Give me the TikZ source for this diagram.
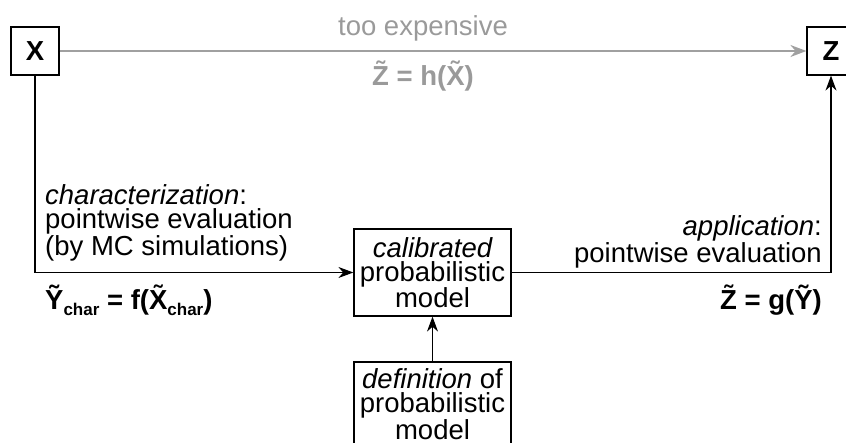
\documentclass[tikz,border=0pt]{standalone}
\usepackage{fontspec}
\setmainfont{Liberation Sans}
\usetikzlibrary{arrows.meta}
\definecolor{lightgray}{HTML}{A0A0A0}
\definecolor{txtgray}{HTML}{9A9A9A}
\newcommand{\tl}[1]{\~{#1}}
\newcommand{\subchar}{\raisebox{-6pt}{\fontsize{17}{17}\selectfont char}}
\begin{document}
\begin{tikzpicture}[x=1pt,y=-1pt,
  every node/.style={font=\fontsize{27.5}{24}\selectfont},
  box/.style={draw=black, line width=1.2pt, fill=white, align=center, inner sep=2pt},
  conn/.style={draw=black, line width=1.2pt},
  arr/.style={conn, -{Stealth[length=15pt,width=11pt]}},
  grayarr/.style={draw=lightgray, line width=1.8pt, -{Stealth[length=16pt,width=12pt]}},
  lbl/.style={inner sep=0pt, align=left}
]
\useasboundingbox (0,0) rectangle (846,443);
\node[box, minimum width=48, minimum height=48] (X) at (35,51) {\bfseries X};
\node[box, minimum width=48, minimum height=48] (Z) at (831,51) {\bfseries Z};
\node[box, minimum width=157, minimum height=87] (cal) at (432.5,272.5) {\itshape calibrated\\probabilistic\\model};
\node[box, minimum width=157, minimum height=84] (def) at (432.5,404) {\textit{definition} of\\probabilistic\\model};

\draw[grayarr] (X) -- (Z);
\node[text=txtgray, inner sep=0pt] (te) at (423,28) {too expensive};
\node[text=txtgray, inner sep=0pt] (zh) at (423,76) {\bfseries \tl{Z} = h(\tl{X})};

\coordinate (lc) at (X.south |- cal.west);
\coordinate (rc) at (Z.south |- cal.east);
\draw[arr] (X.south) -- (lc) -- (cal.west);
\draw[arr] (cal.east) -- (rc) -- (Z.south);
\draw[arr] (def.north) -- (cal.south);

\node[lbl, anchor=south west] (ch) at (45,261) {\textit{characterization}:\\pointwise evaluation\\(by MC simulations)};
\node[lbl, anchor=west] (fy) at (45,300) {\bfseries \tl{Y}\subchar{} = f(\tl{X}\subchar)};
\node[lbl, anchor=south east, align=right] (ap) at (822,268) {\textit{application}:\\pointwise evaluation};
\node[lbl, anchor=east] (gz) at (822,300) {\bfseries \tl{Z} = g(\tl{Y})};
\end{tikzpicture}
\end{document}
